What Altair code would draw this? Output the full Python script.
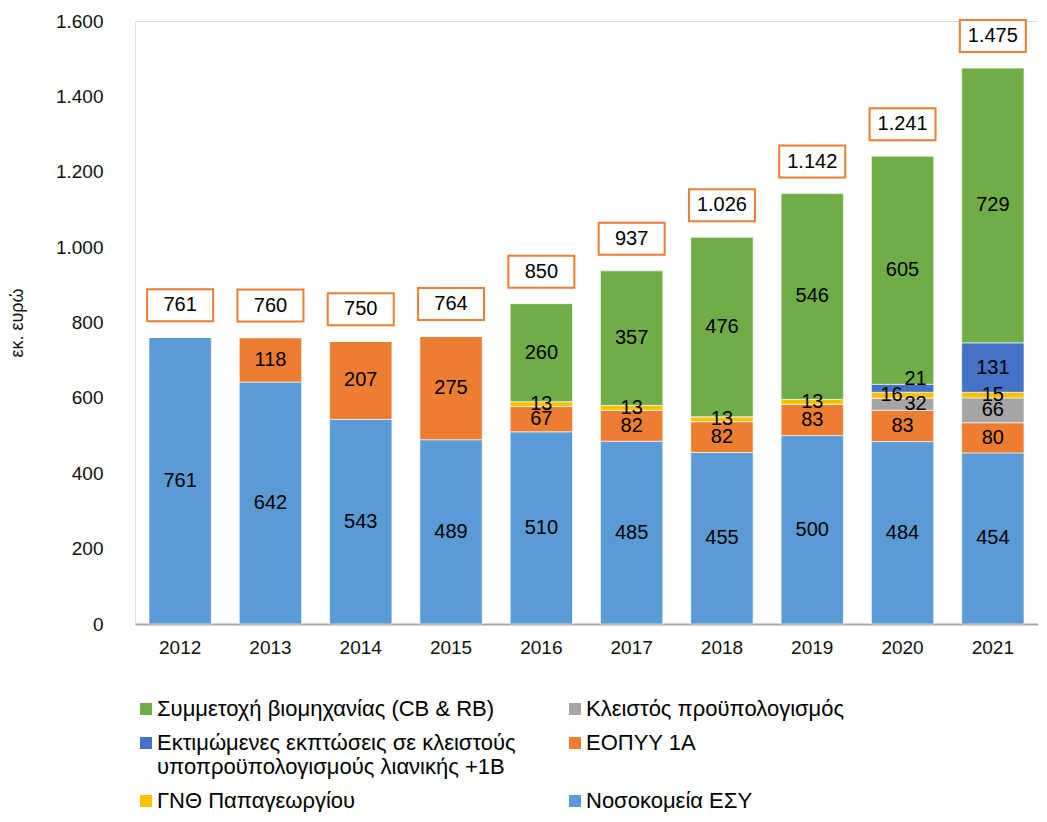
import altair as alt
import pandas as pd

years = ["2012", "2013", "2014", "2015", "2016", "2017", "2018", "2019", "2020", "2021"]
esy = [761, 642, 543, 489, 510, 485, 455, 500, 484, 454]
eopyy = [0, 118, 207, 275, 67, 82, 82, 83, 83, 80]
kleistos = [0, 0, 0, 0, 0, 0, 0, 0, 32, 66]
gnth = [0, 0, 0, 0, 13, 13, 13, 13, 16, 15]
ektim = [0, 0, 0, 0, 0, 0, 0, 0, 21, 131]
symm = [0, 0, 0, 0, 260, 357, 476, 546, 605, 729]

S_ESY = "Νοσοκομεία ΕΣΥ"
S_EOPYY = "ΕΟΠΥΥ 1Α"
S_KL = "Κλειστός προϋπολογισμός"
S_GNTH = "ΓΝΘ Παπαγεωργίου"
S_EKT = "Εκτιμώμενες εκπτώσεις σε κλειστούς υποπροϋπολογισμούς λιανικής +1Β"
S_SYM = "Συμμετοχή βιομηχανίας (CB & RB)"

# stack order bottom -> top
stack_series = [(S_ESY, esy), (S_EOPYY, eopyy), (S_KL, kleistos), (S_GNTH, gnth), (S_EKT, ektim), (S_SYM, symm)]
rows = []
for k, (name, vals) in enumerate(stack_series):
    for y, v in zip(years, vals):
        rows.append({"year": y, "series": name, "value": v, "ord": k})
df = pd.DataFrame(rows)

legend_domain = [S_SYM, S_EKT, S_GNTH, S_KL, S_EOPYY, S_ESY]
legend_colors = ["#70AD47", "#4472C4", "#FFC000", "#A5A5A5", "#ED7D31", "#5B9BD5"]

FONT = "Liberation Sans"

base = alt.Chart(df)

xenc = alt.X("year:N", title=None, scale=alt.Scale(paddingInner=0.31, paddingOuter=0.155),
             axis=alt.Axis(labelAngle=0, labelFontSize=19, labelColor="#111", labelPadding=14,
                           ticks=False, domainColor="#A6A6A6", domainWidth=2))

bars = base.mark_bar(stroke="white", strokeWidth=0.6).encode(
    x=xenc,
    y=alt.Y("sum(value):Q", title="εκ. ευρώ", scale=alt.Scale(domain=[0, 1600]),
            axis=alt.Axis(values=list(range(0, 1601, 200)), labelFontSize=19, labelColor="#111",
                          labelExpr="replace(format(datum.value, ','), ',', '.')",
                          domain=False, ticks=False, grid=False, labelPadding=32,
                          titleFontSize=18, titleFontWeight="normal", titleColor="#111",
                          titlePadding=29)),
    color=alt.Color("series:N", scale=alt.Scale(domain=legend_domain, range=legend_colors),
                    legend=alt.Legend(title=None, orient="none", legendX=0, legendY=677,
                                      columns=2, symbolType="square", symbolSize=144,
                                      labelFontSize=22, labelLimit=700, columnPadding=48,
                                      rowPadding=12, symbolStrokeWidth=0, padding=0,
                                      labelOffset=0,
                                      labelExpr=("datum.label == '" + S_EKT + "' ? "
                                                 "['Εκτιμώμενες εκπτώσεις σε κλειστούς', "
                                                 "'υποπροϋπολογισμούς λιανικής +1Β'] : datum.label"))),
    order=alt.Order("ord:Q", sort="ascending"),
)

stacked = base.transform_filter("datum.value > 0").transform_stack(
    stack="value", groupby=["year"], sort=[alt.SortField("ord", order="ascending")], as_=["y0", "y1"]
).transform_calculate(mid="(datum.y0 + datum.y1) / 2")

is16 = "datum.year == '2020' && datum.series == '" + S_GNTH + "'"
is32 = "datum.year == '2020' && datum.series == '" + S_KL + "'"
is21 = "datum.year == '2020' && datum.series == '" + S_EKT + "'"

def seg_text(filt, dx=0, dy=0):
    return stacked.transform_filter(filt).mark_text(
        fontSize=20, font=FONT, color="black", baseline="middle", dx=dx, dy=dy
    ).encode(x="year:N", y="mid:Q", text="value:Q")

labels_main = seg_text("!(" + is16 + ") && !(" + is32 + ") && !(" + is21 + ")")
label16 = seg_text(is16, dx=-11)
label32 = seg_text(is32, dx=13)
label21 = seg_text(is21, dx=13, dy=-9)

totals = base.transform_aggregate(total="sum(value)", groupby=["year"]).transform_calculate(
    lbl="replace(format(datum.total, ','), ',', '.')"
)
boxes = totals.mark_point(
    shape="M-4,-1.94L4,-1.94L4,1.94L-4,1.94Z", size=272.25, filled=True, fill="white",
    stroke="#ED7D31", strokeWidth=2, opacity=1, yOffset=-32
).encode(x="year:N", y="total:Q")
total_text = totals.mark_text(fontSize=20, font=FONT, color="black", baseline="middle", yOffset=-32).encode(
    x="year:N", y="total:Q", text="lbl:N"
)

chart = alt.layer(bars, labels_main, label16, label32, label21, boxes, total_text).properties(
    width=903, height=603, padding={"top": 4, "left": 0, "right": 0, "bottom": 0}
).configure_view(strokeWidth=0).configure(font=FONT).configure_axis(labelFont=FONT, titleFont=FONT).configure_legend(labelFont=FONT)

chart.save("out.html", embed_options={"renderer": "svg", "actions": False})
